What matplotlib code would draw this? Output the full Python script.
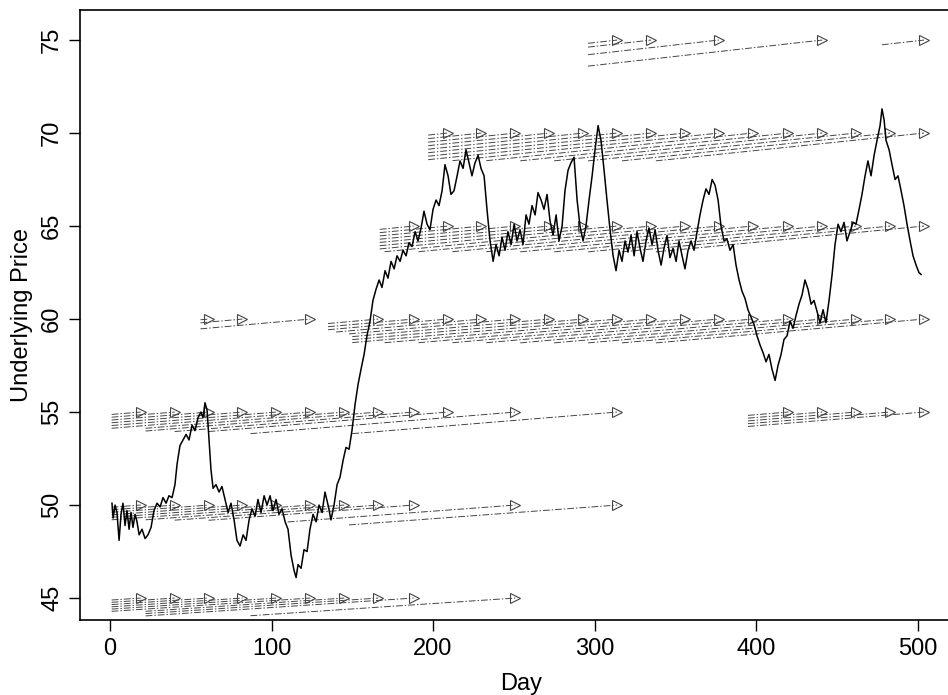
import matplotlib
matplotlib.use("Agg")
import matplotlib.pyplot as plt
import numpy as np

plt.rcParams['font.family'] = ['Liberation Sans', 'DejaVu Sans']

# ---------------- data ----------------
price_days = [
    1.2, 1.9, 3.1, 4.3, 5.6, 6.8, 8.0, 9.3, 10.5, 11.8,
    13.0, 14.2, 15.5, 16.7, 18.0, 19.8, 21.7, 23.5, 25.4, 27.2,
    29.1, 31.0, 32.8, 34.7, 36.5, 38.4, 40.2, 41.5, 43.3, 45.2,
    47.1, 48.9, 50.8, 52.6, 54.5, 56.3, 57.6, 58.8, 60.1, 61.3,
    62.5, 63.8, 65.6, 67.5, 69.3, 71.2, 73.1, 74.9, 76.8, 78.6,
    80.5, 82.4, 84.2, 86.1, 87.9, 89.8, 91.6, 93.5, 95.4, 97.2,
    99.1, 100.9, 102.8, 104.6, 106.5, 108.4, 110.2, 112.1, 113.9, 115.2,
    116.4, 118.3, 120.1, 122.0, 123.8, 125.7, 127.6, 129.4, 131.3, 133.1,
    135.0, 136.8, 138.7, 140.6, 142.4, 144.3, 146.1, 148.0, 149.8, 151.7,
    153.6, 155.4, 157.3, 159.1, 161.0, 162.8, 164.7, 166.6, 168.4, 170.3,
    172.1, 174.0, 175.9, 177.7, 179.6, 181.4, 183.3, 185.1, 187.0, 188.9,
    190.7, 192.6, 194.4, 196.3, 198.1, 200.0, 201.9, 203.7, 205.6, 207.4,
    209.3, 211.1, 213.0, 214.9, 216.7, 218.6, 220.4, 222.3, 224.1, 226.0,
    227.9, 229.7, 231.6, 233.4, 235.3, 237.2, 239.0, 240.9, 242.7, 244.6,
    246.4, 248.3, 250.2, 252.0, 253.9, 255.7, 257.6, 259.4, 261.3, 263.2,
    265.0, 266.9, 268.7, 270.6, 272.4, 274.3, 276.2, 278.0, 279.9, 281.7,
    283.6, 285.4, 287.3, 289.2, 291.0, 292.9, 294.7, 296.6, 298.5, 300.3,
    302.2, 304.0, 305.9, 307.7, 309.6, 311.5, 313.3, 315.2, 317.0, 318.9,
    320.7, 322.6, 324.5, 326.3, 328.2, 330.0, 331.9, 333.7, 335.6, 337.5,
    339.3, 341.2, 343.0, 344.9, 346.7, 348.6, 350.5, 352.3, 354.2, 356.0,
    357.9, 359.8, 361.6, 363.5, 365.3, 367.2, 369.0, 370.9, 372.8, 374.6,
    376.5, 378.3, 380.2, 382.0, 383.9, 385.8, 387.6, 389.5, 391.3, 393.2,
    395.0, 396.9, 398.8, 400.6, 402.5, 404.3, 406.2, 408.0, 409.9, 411.8,
    413.6, 415.5, 417.3, 419.2, 421.1, 422.9, 424.8, 426.6, 428.5, 430.3,
    432.2, 434.1, 435.9, 437.8, 439.6, 441.5, 443.3, 445.2, 447.1, 448.9,
    450.8, 452.6, 454.5, 456.3, 458.2, 460.1, 461.9, 463.8, 465.6, 467.5,
    469.3, 471.2, 473.1, 474.9, 476.8, 478.0, 479.3, 480.5, 482.4, 484.2,
    486.1, 487.9, 489.8, 491.6, 493.5, 495.4, 497.2, 499.1, 500.9, 502.2,
]
price_values = [
    50.1, 49.3, 50.0, 49.6, 48.1, 49.5, 50.1, 48.9, 49.7, 48.7,
    49.6, 48.8, 49.5, 49.1, 48.4, 48.7, 48.2, 48.4, 48.8, 49.7,
    50.1, 49.9, 50.4, 50.1, 50.5, 50.4, 51.1, 52.2, 53.2, 53.5,
    53.8, 53.5, 54.3, 54.0, 54.7, 55.0, 54.7, 55.5, 55.1, 53.5,
    51.9, 50.9, 51.1, 50.7, 51.0, 50.3, 49.6, 50.1, 49.2, 48.1,
    47.8, 48.4, 48.1, 49.2, 49.8, 49.4, 50.3, 49.6, 50.5, 50.0,
    50.5, 49.7, 50.3, 49.5, 49.8, 49.1, 48.7, 47.3, 46.5, 46.1,
    46.8, 46.6, 47.6, 47.5, 48.7, 49.5, 49.1, 50.0, 49.6, 50.7,
    50.0, 49.2, 50.0, 51.1, 51.5, 52.4, 53.1, 53.0, 54.0, 55.4,
    56.5, 57.3, 58.1, 59.1, 59.9, 61.0, 61.6, 62.1, 61.7, 62.6,
    62.2, 63.1, 62.7, 63.4, 63.1, 63.7, 63.4, 64.1, 63.9, 64.7,
    64.2, 64.9, 65.8, 65.1, 64.8, 65.9, 66.4, 66.1, 66.9, 68.3,
    67.7, 66.7, 66.9, 67.7, 68.5, 68.1, 69.1, 68.4, 67.7, 68.4,
    68.8, 68.1, 67.7, 65.9, 64.2, 63.1, 64.0, 63.4, 64.4, 63.7,
    64.7, 64.0, 65.1, 64.2, 64.8, 64.0, 65.6, 65.1, 66.1, 65.6,
    66.8, 66.4, 65.9, 66.7, 65.3, 64.5, 65.6, 64.2, 65.0, 66.9,
    68.0, 68.4, 68.7, 66.4, 65.0, 64.2, 65.0, 66.4, 67.7, 69.1,
    70.4, 69.6, 68.0, 66.4, 64.8, 63.4, 62.6, 63.7, 63.1, 64.2,
    63.6, 64.5, 63.4, 64.7, 63.8, 63.1, 64.2, 64.9, 64.0, 64.8,
    63.7, 62.9, 63.8, 64.5, 63.3, 63.8, 63.1, 64.2, 63.4, 62.7,
    63.7, 64.2, 63.7, 64.7, 65.6, 66.4, 67.0, 66.7, 67.5, 67.2,
    66.4, 65.0, 64.2, 64.3, 63.7, 64.0, 62.9, 62.1, 61.5, 61.1,
    60.5, 60.1, 59.7, 59.1, 58.6, 58.2, 57.7, 58.1, 57.3, 56.7,
    57.5, 58.1, 58.9, 59.1, 59.9, 59.5, 60.2, 60.8, 61.3, 62.1,
    61.6, 60.8, 61.0, 60.4, 59.8, 60.5, 59.8, 61.0, 62.4, 64.0,
    65.1, 64.7, 65.2, 64.2, 64.7, 65.2, 65.1, 65.9, 66.7, 67.7,
    68.5, 67.7, 68.8, 69.6, 70.4, 71.3, 70.7, 69.6, 69.1, 68.3,
    67.5, 67.7, 66.9, 66.1, 65.1, 64.2, 63.4, 62.9, 62.5, 62.4,
]

strikes = [45, 50, 55, 60, 65, 70, 75]

# listing day and expiry day of each option, per strike
listing_45 = [1, 1, 1, 1, 1, 1, 22, 22, 22, 87]
expiry_45 = [19, 40, 61, 82, 103, 124, 145, 166, 188, 251]

listing_50 = [1, 1, 1, 1, 1, 1, 22, 40, 61, 110, 148]
expiry_50 = [19, 40, 61, 82, 103, 124, 145, 166, 188, 251, 314]

listing_55 = [1, 1, 1, 1, 1, 1, 22, 22, 40, 61, 87, 150, 395, 395, 395, 395, 395]
expiry_55 = [19, 40, 61, 82, 103, 124, 145, 166, 188, 209, 251, 314, 420, 441, 462, 483, 504]

listing_60 = [56, 56, 56, 135, 135, 135, 140, 148, 150, 150, 150, 170, 191, 212,
              233, 254, 275, 296, 317, 338]
expiry_60 = [61, 82, 124, 166, 188, 209, 230, 251, 272, 293, 314, 335, 356, 377,
             398, 420, 441, 462, 483, 504]

listing_65 = [167, 167, 167, 167, 167, 167, 167, 170, 191, 212, 233, 254, 275, 296, 317, 338]
expiry_65 = [188, 209, 230, 251, 272, 293, 314, 335, 356, 377, 398, 420, 441, 462, 483, 504]

listing_70 = [197, 197, 197, 197, 197, 197, 197, 197, 212, 233, 254, 275, 296, 317, 338]
expiry_70 = [209, 230, 251, 272, 293, 314, 335, 356, 377, 398, 420, 441, 462, 483, 504]

listing_75 = [296, 296, 296, 296, 478]
expiry_75 = [314, 335, 377, 441, 504]

x_ticks = [0, 100, 200, 300, 400, 500]
y_ticks = [45, 50, 55, 60, 65, 70, 75]
x_label = "Day"
y_label = "Underlying Price"

assert len(price_days) == len(price_values)

listings = [listing_45, listing_50, listing_55, listing_60, listing_65, listing_70, listing_75]
expiries = [expiry_45, expiry_50, expiry_55, expiry_60, expiry_65, expiry_70, expiry_75]

# ---------------- style ----------------
daily_rate = 0.00013   # discounting of the strike along each option's life
W, H = 948, 695
fig = plt.figure(figsize=(W / 100, H / 100), dpi=100)
ax = fig.add_axes([80 / W, 75 / H, (962 - 80) / W, 610 / H])

line_col = '#444444'
for K, lst, exp in zip(strikes, listings, expiries):
    for t0, T in zip(lst, exp):
        y0 = K * np.exp(-daily_rate * (T - t0))
        ax.plot([t0, T], [y0, K], color=line_col, lw=0.7,
                dashes=(7, 2, 1.5, 2), solid_capstyle='butt', zorder=2)
        ax.plot([T], [K], marker='>', ms=7, mfc='none', mec=line_col,
                mew=0.8, zorder=3, ls='none')

ax.plot(price_days, price_values, color='black', lw=1.1, zorder=4)

ax.set_xlim(-18.6, -18.6 + (962 - 80) / 1.615)
ax.set_ylim(43.82, 43.82 + 610 / 18.6)
ax.set_xticks(x_ticks)
ax.set_yticks(y_ticks)
ax.tick_params(direction='out', length=8, width=1, labelsize=17, pad=5, colors='black')
for lab in ax.get_yticklabels():
    lab.set_rotation(90)
    lab.set_va('center')
    lab.set_ha('center')
ax.tick_params(axis='y', pad=12)
for s in ax.spines.values():
    s.set_linewidth(1.2)
ax.set_xlabel(x_label, fontsize=17, labelpad=9)
ax.set_ylabel(y_label, fontsize=17, labelpad=6)

fig.savefig('out.png', dpi=100)
